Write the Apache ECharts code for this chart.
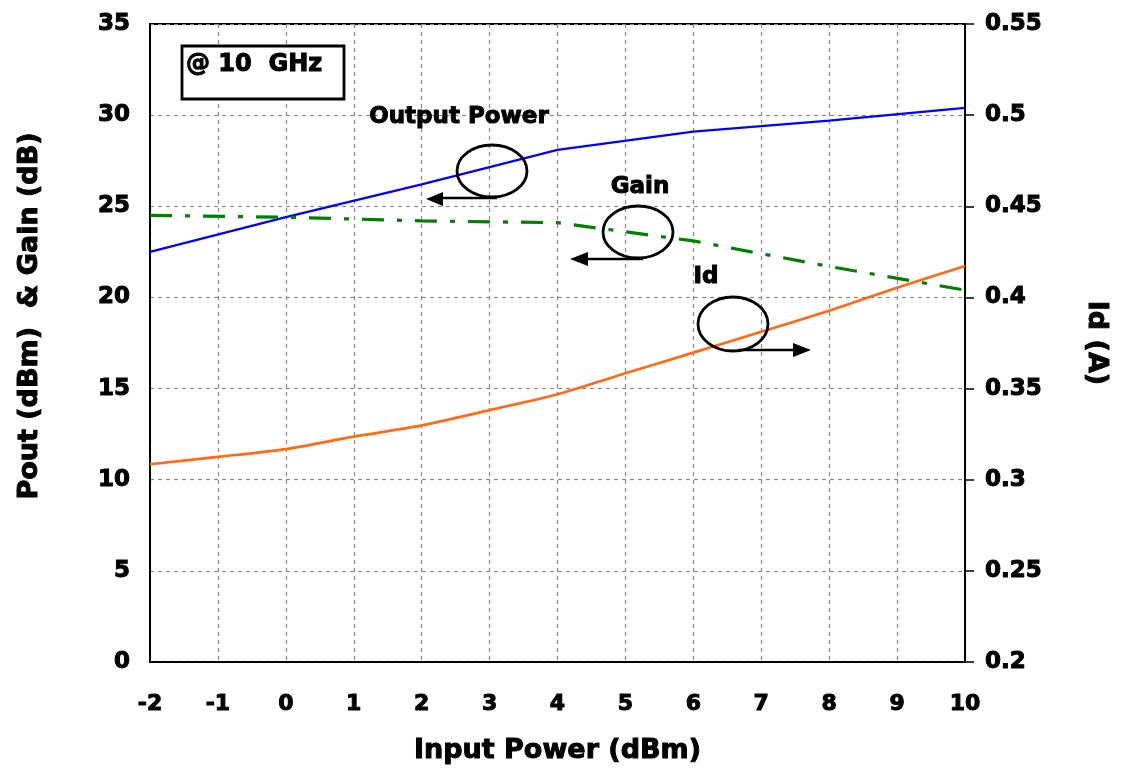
<!DOCTYPE html>
<html>
<head>
<meta charset="utf-8">
<script src="https://cdn.jsdelivr.net/npm/echarts@6/dist/echarts.min.js"></script>
<style>
html,body{margin:0;padding:0;background:#fff;}
#chart{width:1121px;height:775px;}
</style>
</head>
<body>
<div id="chart"></div>
<script>
// ---- data ----
var inputPower = [-2, 0, 2, 4, 6, 8, 10];
var outputPower = [22.5, 24.4, 26.2, 28.1, 29.1, 29.7, 30.4];
var gain = [24.5, 24.4, 24.2, 24.1, 23.1, 21.7, 20.4];
var idInput = [-2, -1, 0, 1, 2, 3, 4, 5, 6, 7, 8, 9, 10];
var idCurrent = [0.3085, 0.3125, 0.3168, 0.3236, 0.3298, 0.3382, 0.3469, 0.3584, 0.3697, 0.3812, 0.3927, 0.4053, 0.4172];
var leftTicks = [0, 5, 10, 15, 20, 25, 30, 35];
var rightTicks = [0.2, 0.25, 0.3, 0.35, 0.4, 0.45, 0.5, 0.55];

function pairs(xs, ys) { return xs.map(function (x, i) { return [x, ys[i]]; }); }

var FONT = '"DejaVu Sans", "Liberation Sans", Arial, sans-serif';
var HEAVY = { textBorderColor: '#000', textBorderWidth: 1 };
function lbl(extra) { return Object.assign({ fontFamily: FONT, fontWeight: 'bold', color: '#000' }, HEAVY, extra); }
function gtxt(extra) { return Object.assign({ fontFamily: FONT, fontWeight: 'bold', fill: '#000', stroke: '#000', lineWidth: 1 }, extra); }

var chart = echarts.init(document.getElementById('chart'));

var option = {
  backgroundColor: '#fff',
  animation: false,
  grid: { left: 150, right: 156, top: 24, bottom: 113, show: true, borderColor: '#000', borderWidth: 2, backgroundColor: 'transparent' },
  xAxis: {
    type: 'value', min: -2, max: 10, interval: 1,
    name: 'Input Power (dBm)', nameLocation: 'middle', nameGap: 75,
    nameTextStyle: lbl({ fontSize: 27 }),
    axisLine: { show: true, onZero: false, lineStyle: { color: '#000', width: 2 } },
    axisTick: { show: false },
    axisLabel: lbl({ margin: 31, fontSize: 22 }),
    splitLine: { show: true, lineStyle: { color: '#888', type: [4, 4], width: 1.2 } }
  },
  yAxis: [
    {
      type: 'value', min: 0, max: 35, interval: 5, position: 'left',
      axisLine: { show: true, onZero: false, lineStyle: { color: '#000', width: 2 } },
      axisTick: { show: false },
      axisLabel: lbl({ margin: 20, fontSize: 23,
        formatter: function (v) { return leftTicks.indexOf(v) >= 0 ? String(v) : ''; } }),
      splitLine: { show: true, lineStyle: { color: '#888', type: [4, 4], width: 1.2 } }
    },
    {
      type: 'value', min: 0.2, max: 0.55, interval: 0.05, position: 'right',
      name: 'Id (A)', nameLocation: 'middle', nameGap: 118, nameRotate: -90,
      nameTextStyle: lbl({ fontSize: 27 }),
      axisLine: { show: true, onZero: false, lineStyle: { color: '#000', width: 2 } },
      axisTick: { show: true, length: 9, lineStyle: { color: '#000', width: 1.5 } },
      axisLabel: lbl({ margin: 20, fontSize: 23,
        formatter: function (v) {
          var r = Math.round(v * 100) / 100;
          for (var i = 0; i < rightTicks.length; i++) { if (Math.abs(rightTicks[i] - r) < 1e-6) return String(rightTicks[i]); }
          return '';
        } }),
      splitLine: { show: false }
    }
  ],
  series: [
    {
      name: 'Output Power', type: 'line', yAxisIndex: 0, data: pairs(inputPower, outputPower),
      showSymbol: false, symbol: 'none', lineStyle: { color: '#0000ff', width: 2.3 }, z: 3
    },
    {
      name: 'Gain', type: 'line', yAxisIndex: 0, data: pairs(inputPower, gain),
      showSymbol: false, symbol: 'none', lineStyle: { color: '#008000', width: 3.2, type: [22, 13, 5, 13] }, z: 3
    },
    {
      name: 'Id', type: 'line', yAxisIndex: 1, data: pairs(idInput, idCurrent), smooth: 0.3,
      showSymbol: false, symbol: 'none', lineStyle: { color: '#ff6a13', width: 2.7 }, z: 3
    }
  ],
  graphic: [
    { type: 'text', x: 30, y: 316, rotation: Math.PI / 2,
      style: gtxt({ text: 'Pout (dBm)  & Gain (dB)', fontSize: 27, align: 'center', verticalAlign: 'middle' }), z: 11 },

    { type: 'rect', shape: { x: 182, y: 46, width: 162, height: 53 }, style: { fill: '#fff', stroke: '#000', lineWidth: 2.8 }, z: 10 },
    { type: 'text', x: 186, y: 65, style: gtxt({ text: '@ 10  GHz', fontSize: 24, verticalAlign: 'middle', align: 'left' }), z: 11 },

    { type: 'text', x: 459, y: 117, style: gtxt({ text: 'Output Power', fontSize: 23, align: 'center', verticalAlign: 'middle' }), z: 11 },
    { type: 'ellipse', shape: { cx: 492, cy: 171, rx: 35, ry: 26 }, style: { fill: 'none', stroke: '#000', lineWidth: 2.8 }, z: 10 },
    { type: 'line', shape: { x1: 497, y1: 198, x2: 440, y2: 198 }, style: { stroke: '#000', lineWidth: 2.4 }, z: 10 },
    { type: 'polygon', shape: { points: [[426, 199], [443, 192], [443, 206]] }, style: { fill: '#000' }, z: 10 },

    { type: 'text', x: 640, y: 187, style: gtxt({ text: 'Gain', fontSize: 23, align: 'center', verticalAlign: 'middle' }), z: 11 },
    { type: 'ellipse', shape: { cx: 638, cy: 232, rx: 35, ry: 26 }, style: { fill: 'none', stroke: '#000', lineWidth: 2.8 }, z: 10 },
    { type: 'line', shape: { x1: 643, y1: 259, x2: 586, y2: 259 }, style: { stroke: '#000', lineWidth: 2.4 }, z: 10 },
    { type: 'polygon', shape: { points: [[570, 259], [588, 252], [588, 266]] }, style: { fill: '#000' }, z: 10 },

    { type: 'text', x: 706, y: 277, style: gtxt({ text: 'Id', fontSize: 23, align: 'center', verticalAlign: 'middle' }), z: 11 },
    { type: 'ellipse', shape: { cx: 733, cy: 324, rx: 35, ry: 27 }, style: { fill: 'none', stroke: '#000', lineWidth: 2.8 }, z: 10 },
    { type: 'line', shape: { x1: 738, y1: 350, x2: 795, y2: 350 }, style: { stroke: '#000', lineWidth: 2.4 }, z: 10 },
    { type: 'polygon', shape: { points: [[811, 350], [793, 343], [793, 357]] }, style: { fill: '#000' }, z: 10 }
  ]
};
chart.setOption(option);
</script>
</body>
</html>
